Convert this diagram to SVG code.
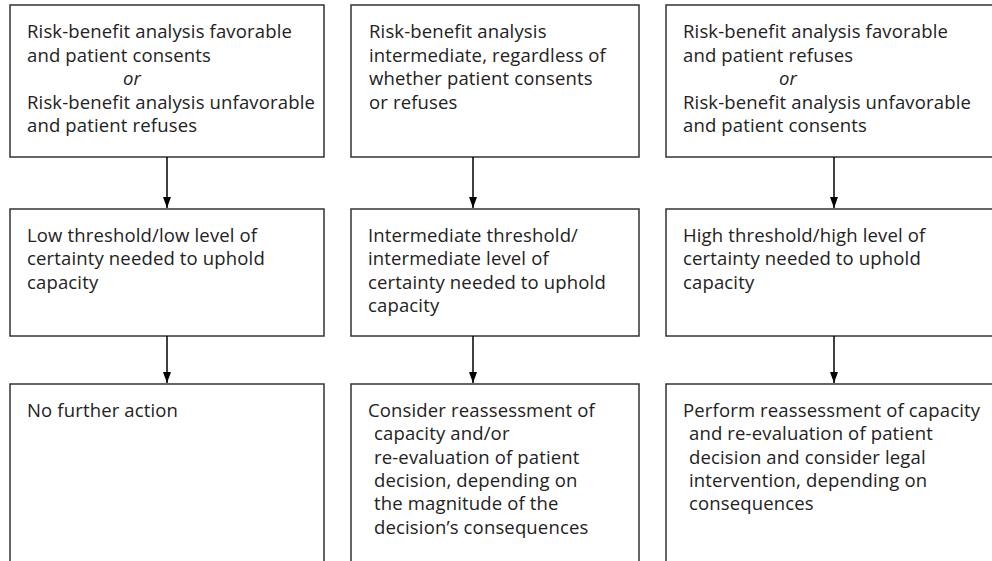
<svg xmlns="http://www.w3.org/2000/svg" width="992" height="561" viewBox="0 0 992 561">
<defs>
<style>
.box{fill:#fff;stroke:#333;stroke-width:1.5}
.t{font-family:"Open Sans","Noto Sans","Liberation Sans",sans-serif;font-size:18.5px;letter-spacing:0.15px;fill:#222}
.i{font-style:italic}
.c{stroke:#000;stroke-width:1.5;fill:none}
</style>
<marker id="ah" viewBox="0 0 11 8" refX="11" refY="4" markerWidth="11" markerHeight="8" markerUnits="userSpaceOnUse" orient="auto">
<path d="M0,0 L11,4 L0,8 Z" fill="#000"/>
</marker>
</defs>
<rect width="992" height="561" fill="#fff"/>
<g id="n1">
<rect class="box" x="10" y="5" width="314" height="152"/>
<text class="t" x="27" y="38">Risk-benefit analysis favorable</text>
<text class="t" x="27" y="61.5">and patient consents</text>
<text class="t i" x="123" y="85">or</text>
<text class="t" x="27" y="108.5">Risk-benefit analysis unfavorable</text>
<text class="t" x="27" y="132">and patient refuses</text>
</g>
<g id="n2">
<rect class="box" x="351" y="5" width="288" height="152"/>
<text class="t" x="369" y="38">Risk-benefit analysis</text>
<text class="t" x="369" y="61.5">intermediate, regardless of</text>
<text class="t" x="369" y="85">whether patient consents</text>
<text class="t" x="369" y="108.5">or refuses</text>
</g>
<g id="n3">
<rect class="box" x="666" y="5" width="340" height="152"/>
<text class="t" x="683" y="38">Risk-benefit analysis favorable</text>
<text class="t" x="683" y="61.5">and patient refuses</text>
<text class="t i" x="779" y="85">or</text>
<text class="t" x="683" y="108.5">Risk-benefit analysis unfavorable</text>
<text class="t" x="683" y="132">and patient consents</text>
</g>
<g id="n4">
<rect class="box" x="10" y="209" width="314" height="127"/>
<text class="t" x="27" y="242">Low threshold/low level of</text>
<text class="t" x="27" y="265.3">certainty needed to uphold</text>
<text class="t" x="27" y="288.6">capacity</text>
</g>
<g id="n5">
<rect class="box" x="351" y="209" width="288" height="127"/>
<text class="t" x="368" y="242">Intermediate threshold/</text>
<text class="t" x="368" y="265.3">intermediate level of</text>
<text class="t" x="368" y="288.6">certainty needed to uphold</text>
<text class="t" x="368" y="311.9">capacity</text>
</g>
<g id="n6">
<rect class="box" x="666" y="209" width="340" height="127"/>
<text class="t" x="683" y="242">High threshold/high level of</text>
<text class="t" x="683" y="265.3">certainty needed to uphold</text>
<text class="t" x="683" y="288.6">capacity</text>
</g>
<g id="n7">
<path class="box" d="M10,570 V384 H324 V570"/>
<text class="t" x="27" y="417">No further action</text>
</g>
<g id="n8">
<path class="box" d="M351,570 V384 H639 V570"/>
<text class="t" x="368" y="417">Consider reassessment of</text>
<text class="t" x="374" y="440.3">capacity and/or</text>
<text class="t" x="374" y="463.6">re-evaluation of patient</text>
<text class="t" x="374" y="486.9">decision, depending on</text>
<text class="t" x="374" y="510.2">the magnitude of the</text>
<text class="t" x="374" y="533.5">decision’s consequences</text>
</g>
<g id="n9">
<path class="box" d="M666,570 V384 H1006"/>
<text class="t" x="683" y="417">Perform reassessment of capacity</text>
<text class="t" x="689" y="440.3">and re-evaluation of patient</text>
<text class="t" x="689" y="463.6">decision and consider legal</text>
<text class="t" x="689" y="486.9">intervention, depending on</text>
<text class="t" x="689" y="510.2">consequences</text>
</g>
<g id="connectors">
<line class="c" x1="167" y1="157" x2="167" y2="208" marker-end="url(#ah)"/>
<line class="c" x1="473" y1="157" x2="473" y2="208" marker-end="url(#ah)"/>
<line class="c" x1="834" y1="157" x2="834" y2="208" marker-end="url(#ah)"/>
<line class="c" x1="167" y1="336" x2="167" y2="383" marker-end="url(#ah)"/>
<line class="c" x1="473" y1="336" x2="473" y2="383" marker-end="url(#ah)"/>
<line class="c" x1="834" y1="336" x2="834" y2="383" marker-end="url(#ah)"/>
</g>
</svg>
